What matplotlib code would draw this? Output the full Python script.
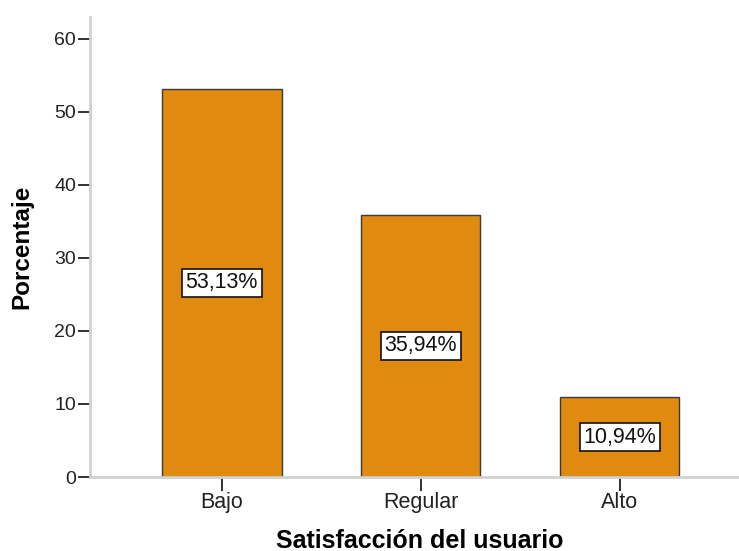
import matplotlib
matplotlib.use("Agg")
import matplotlib.pyplot as plt

plt.rcParams["font.family"] = ["Liberation Sans", "DejaVu Sans"]

categories = ["Bajo", "Regular", "Alto"]
porcentajes = [53.13, 35.94, 10.94]
etiquetas = ["53,13%", "35,94%", "10,94%"]
yticks = [0, 10, 20, 30, 40, 50, 60]

fig = plt.figure(figsize=(7.39, 5.51), dpi=100)
ax = fig.add_axes([0.1218, 0.1343, 0.878, 0.835])

x = list(range(len(categories)))
ax.bar(x, porcentajes, width=0.6, color="#E08A0F", edgecolor="#3a3a3a", linewidth=1.0, zorder=2)

# etiquetas de porcentaje en el centro de cada barra
for xi, val, lab in zip(x, porcentajes, etiquetas):
    ax.text(xi, val / 2, lab, ha="center", va="center", fontsize=15.5, color="#111111",
            bbox=dict(boxstyle="square,pad=0.17", facecolor="white", edgecolor="#111111", linewidth=1.2),
            zorder=3)

ax.set_xlim(-0.663, 2.6)
ax.set_ylim(0, 63)
ax.set_xticks(x)
ax.set_xticklabels(categories)
ax.set_yticks(yticks)

for side in ("top", "right"):
    ax.spines[side].set_visible(False)
for side in ("left", "bottom"):
    ax.spines[side].set_color("#d0d0d0")
    ax.spines[side].set_linewidth(2)

ax.tick_params(axis="y", length=9, width=1.3, color="#222222", labelsize=14, labelcolor="#222222", pad=1)
ax.tick_params(axis="x", length=10, width=1.3, color="#222222", labelsize=15.5, labelcolor="#222222", pad=1)

ax.set_ylabel("Porcentaje", fontsize=17.5, fontweight="bold")
ax.set_xlabel("Satisfacción del usuario", fontsize=18, fontweight="bold")
ax.yaxis.set_label_coords(-0.088, 0.5)
ax.xaxis.set_label_coords(0.508, -0.112)

fig.savefig("out.png", dpi=100)
